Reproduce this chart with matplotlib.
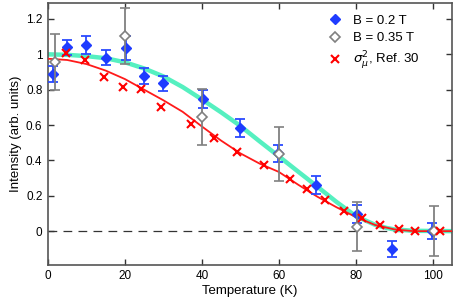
import matplotlib
matplotlib.use("Agg")
import matplotlib.pyplot as plt
from matplotlib.lines import Line2D

plt.rcParams['font.family'] = ['Liberation Sans', 'DejaVu Sans']

# B = 0.2 T data
t_b02 = [1.4, 5.0, 10.0, 15.0, 20.2, 25.0, 30.0, 40.2, 49.9, 59.7, 69.6, 80.3, 89.4, 99.8]
i_b02 = [0.89, 1.04, 1.054, 0.98, 1.035, 0.878, 0.837, 0.746, 0.582, 0.44, 0.26, 0.096, -0.10, 0.0]
e_b02 = [0.045, 0.042, 0.05, 0.042, 0.068, 0.044, 0.042, 0.05, 0.05, 0.05, 0.05, 0.05, 0.047, 0.047]

# B = 0.35 T data
t_b035 = [1.8, 20.0, 40.1, 60.1, 80.2, 100.3]
i_b035 = [0.955, 1.105, 0.644, 0.436, 0.025, 0.0]
e_b035 = [0.158, 0.158, 0.158, 0.155, 0.138, 0.14]

# sigma_mu^2, Ref. 30
t_sig = [4.7, 9.6, 14.5, 19.4, 24.3, 29.3, 37.1, 43.1, 49.0, 56.1, 62.9, 67.2, 72.1, 77.0, 81.5, 86.2, 91.2, 95.3, 102.0]
i_sig = [1.01, 0.969, 0.871, 0.814, 0.803, 0.704, 0.606, 0.525, 0.446, 0.374, 0.293, 0.236, 0.176, 0.113, 0.072, 0.034, 0.01, 0.0, 0.0]

# fit curves
t_fit_cyan = [0, 5, 10, 15, 20, 25, 30, 35, 40, 45, 50, 55, 60, 65, 70, 75, 80, 85, 88, 90, 95, 105]
i_fit_cyan = [1.0, 0.997, 0.99, 0.978, 0.955, 0.92, 0.875, 0.815, 0.745, 0.672, 0.595, 0.508, 0.423, 0.337, 0.252, 0.165, 0.085, 0.036, 0.018, 0.01, 0.002, 0.0]

t_fit_red = [0, 5, 10, 15, 20, 25, 30, 35, 40, 45, 50, 55, 60, 65, 70, 75, 80, 85, 90, 95, 105]
i_fit_red = [0.975, 0.968, 0.945, 0.908, 0.86, 0.80, 0.74, 0.675, 0.592, 0.512, 0.44, 0.382, 0.335, 0.263, 0.195, 0.135, 0.08, 0.035, 0.01, 0.0, 0.0]

labels = ['B = 0.2 T', 'B = 0.35 T', r'$\sigma_{\mu}^{2}$, Ref. 30']
xticks = [0, 20, 40, 60, 80, 100]
yticks = [0, 0.2, 0.4, 0.6, 0.8, 1.0, 1.2]
yticklabels = ['0', '0.2', '0.4', '0.6', '0.8', '1', '1.2']

fig = plt.figure(figsize=(4.57, 3.05), dpi=100)
ax = fig.add_axes([0.105, 0.132, 0.884, 0.858])

ax.axhline(0, color='#333333', lw=0.9, ls=(0, (7, 5)), zorder=1)
ax.plot(t_fit_cyan, i_fit_cyan, color='#55f0c0', lw=3.2, zorder=2, solid_capstyle='butt')
ax.plot(t_fit_red, i_fit_red, color='#ff1a1a', lw=1.3, zorder=3)

ax.errorbar(t_b02, i_b02, yerr=e_b02, fmt='D', color='#1f3cff', ecolor='#2a4aff',
            ms=5.5, elinewidth=1.3, capsize=3.5, capthick=1.3, zorder=4)
ax.errorbar(t_b035, i_b035, yerr=e_b035, fmt='D', color='#808080', mfc='white', mec='#808080',
            ms=5, mew=1.2, elinewidth=1.3, capsize=3.5, capthick=1.3, zorder=5)
ax.plot(t_sig, i_sig, 'x', color='#ff0000', ms=5.5, mew=1.5, zorder=6)

ax.set_xlim(0, 105)
ax.set_ylim(-0.19, 1.29)
ax.set_xticks(xticks)
ax.set_yticks(yticks)
ax.set_yticklabels(yticklabels)
ax.tick_params(direction='in', top=True, right=True, length=4, width=1, labelsize=8.5,
               color='#333333', pad=4)
for s in ax.spines.values():
    s.set_color('#555555')
    s.set_linewidth(1.2)

ax.set_xlabel('Temperature (K)', fontsize=9.5, labelpad=2)
ax.set_ylabel('Intensity (arb. units)', fontsize=9.5, labelpad=3)

handles = [
    Line2D([], [], ls='none', marker='D', color='#1f3cff', ms=5.5),
    Line2D([], [], ls='none', marker='D', color='#808080', mfc='white', ms=5, mew=1.2),
    Line2D([], [], ls='none', marker='x', color='#ff0000', ms=5.5, mew=1.5),
]
leg = ax.legend(handles, labels, loc='upper left', frameon=False, fontsize=9.5,
                bbox_to_anchor=(0.694, 0.955), borderpad=0, borderaxespad=0,
                handlelength=1.0, handletextpad=0.86, labelspacing=0.38)

fig.savefig('out.png', dpi=100)
